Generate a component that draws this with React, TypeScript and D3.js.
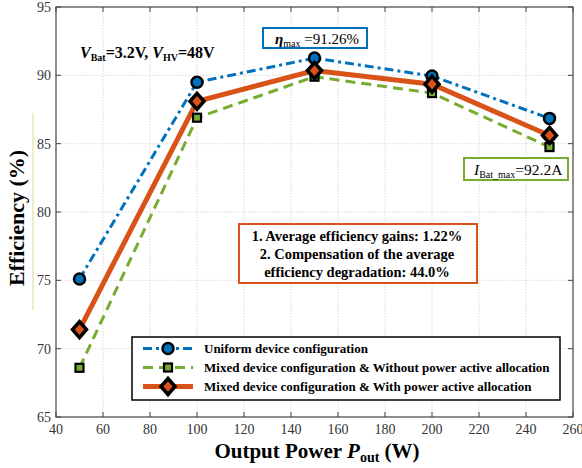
import React from 'react';
import * as d3 from 'd3';

const power = [50, 100, 150, 200, 250];
const uniform = [75.1, 89.5, 91.26, 89.95, 86.85];
const mixedWithout = [68.6, 86.9, 89.9, 88.7, 84.75];
const mixedWith = [71.4, 88.1, 90.35, 89.35, 85.6];
const xTicks = [40, 60, 80, 100, 120, 140, 160, 180, 200, 220, 240, 260];
const yTicks = [65, 70, 75, 80, 85, 90, 95];
const legendLabels = [
  'Uniform device configuration',
  'Mixed device configuration & Without power active allocation',
  'Mixed device configuration & With power active allocation',
];
const noteLines = ['1. Average efficiency gains: 1.22%', '2. Compensation of the average', 'efficiency degradation: 44.0%'];

const W = 582;
const H = 468;
const margin = { top: 7, right: 9, bottom: 51, left: 56 };
const BLUE = '#0072BD';
const GREEN = '#77AC30';
const ORANGE = '#D95319';
const ff = { fontFamily: "'Liberation Serif'" };

const App = () => {
  const x = d3.scaleLinear().domain([40, 260]).range([margin.left, W - margin.right]);
  const y = d3.scaleLinear().domain([65, 95]).range([H - margin.bottom, margin.top]);

  const lineFn = (vals: number[]) =>
    d3.line<number>().x((_, i) => x(power[i])).y((d) => y(d))(vals) || '';

  const series = [
    { vals: uniform, color: BLUE, width: 3, dash: '9 4 3 4', marker: 'circle' },
    { vals: mixedWithout, color: GREEN, width: 3, dash: '10 6', marker: 'square' },
    { vals: mixedWith, color: ORANGE, width: 5, dash: null, marker: 'diamond' },
  ];

  const marker = (type: string, cx: number, cy: number, color: string, key: string) => {
    if (type === 'circle')
      return <circle key={key} cx={cx} cy={cy} r={5.5} fill={color} stroke="#000" strokeWidth={2.5} />;
    if (type === 'square')
      return <rect key={key} x={cx - 4} y={cy - 4} width={8} height={8} fill={color} stroke="#000" strokeWidth={2.2} />;
    return (
      <path key={key} d={`M${cx},${cy - 8}L${cx + 7},${cy}L${cx},${cy + 8}L${cx - 7},${cy}Z`}
        fill={color} stroke="#000" strokeWidth={3.5} strokeLinejoin="miter" />
    );
  };

  const x0 = margin.left, x1 = W - margin.right, y0 = margin.top, y1 = H - margin.bottom;

  return (
    <svg width={W} height={H} style={{ position: 'absolute', left: 0, top: 0, background: '#fff' }}>
      {/* grid */}
      {xTicks.slice(1, -1).map((t) => (
        <line key={'gx' + t} x1={x(t)} x2={x(t)} y1={y0} y2={y1} stroke="#cfcfcf" strokeWidth={0.8} strokeDasharray="1.5 1.5" />
      ))}
      {yTicks.slice(1, -1).map((t) => (
        <line key={'gy' + t} x1={x0} x2={x1} y1={y(t)} y2={y(t)} stroke="#cfcfcf" strokeWidth={0.8} strokeDasharray="1.5 1.5" />
      ))}
      {/* ticks */}
      {xTicks.map((t) => (
        <g key={'tx' + t}>
          <line x1={x(t)} x2={x(t)} y1={y1} y2={y1 - 5} stroke="#444" />
          <line x1={x(t)} x2={x(t)} y1={y0} y2={y0 + 5} stroke="#444" />
          <text x={x(t)} y={y1 + 17} textAnchor="middle" fontSize={14} fill="#333" style={ff}>{t}</text>
        </g>
      ))}
      {yTicks.map((t) => (
        <g key={'ty' + t}>
          <line x1={x0} x2={x0 + 5} y1={y(t)} y2={y(t)} stroke="#444" />
          <line x1={x1} x2={x1 - 5} y1={y(t)} y2={y(t)} stroke="#444" />
          <text x={x0 - 5} y={y(t) + 5} textAnchor="end" fontSize={14} fill="#333" style={ff}>{t}</text>
        </g>
      ))}
      <rect x={x0} y={y0} width={x1 - x0} height={y1 - y0} fill="none" stroke="#444" strokeWidth={1.2} />

      {/* series */}
      {series.map((s, i) => (
        <path key={'l' + i} d={lineFn(s.vals)} fill="none" stroke={s.color} strokeWidth={s.width}
          strokeDasharray={s.dash || undefined} />
      ))}
      {series.map((s, i) =>
        s.vals.map((v, j) => marker(s.marker, x(power[j]), y(v), s.color, `m${i}-${j}`))
      )}

      {/* annotations */}
      <text x={80} y={58} fontSize={16} fontWeight="bold" style={ff}>
        <tspan fontStyle="italic">V</tspan><tspan fontSize={10} dy={3}>Bat</tspan>
        <tspan dy={-3}>=3.2V, </tspan><tspan fontStyle="italic">V</tspan>
        <tspan fontSize={10} dy={3}>HV</tspan><tspan dy={-3}>=48V</tspan>
      </text>

      <rect x={263} y={28} width={104} height={20} fill="#fff" stroke={BLUE} strokeWidth={2} />
      <text x={275} y={44} fontSize={15} style={ff}>
        <tspan fontStyle="italic" fontWeight="bold">η</tspan><tspan fontSize={10} dy={3}>max</tspan>
        <tspan dy={-3}> =91.26%</tspan>
      </text>

      <rect x={464} y={158} width={104} height={22} fill="#fff" stroke={GREEN} strokeWidth={2} />
      <text x={474} y={175} fontSize={15.5} style={ff}>
        <tspan fontStyle="italic">I</tspan><tspan fontSize={10} dy={3}>Bat_max</tspan>
        <tspan dy={-3}>=92.2A</tspan>
      </text>

      <rect x={239} y={224} width={238} height={59} fill="#fff" stroke={ORANGE} strokeWidth={2} />
      {noteLines.map((t, i) => (
        <text key={'a' + i} x={357} y={241 + i * 18} textAnchor="middle" fontSize={14.5} fontWeight="bold" style={ff}>{t}</text>
      ))}

      {/* legend */}
      <rect x={132} y={337} width={428} height={63} fill="#fff" stroke="#000" strokeWidth={1.5} />
      {series.map((s, i) => {
        const ly = 348.5 + i * 19;
        return (
          <g key={'lg' + i}>
            <line x1={143} x2={193} y1={ly} y2={ly} stroke={s.color} strokeWidth={s.width}
              strokeDasharray={s.dash || undefined} />
            {marker(s.marker, 168, ly, s.color, 'lm' + i)}
            <text x={204} y={ly + 4.5} fontSize={13} fontWeight="bold" style={ff}>{legendLabels[i]}</text>
          </g>
        );
      })}

      {/* axis labels */}
      <line x1={33} x2={33} y1={113} y2={310} stroke="#e0d890" strokeWidth={1} />
      <text transform={`translate(24, 218) rotate(-90)`} textAnchor="middle" fontSize={22} fontWeight="bold" style={ff}>
        Efficiency (%)
      </text>
      <text x={317} y={458} textAnchor="middle" fontSize={21} fontWeight="bold" style={ff}>
        Output Power <tspan fontStyle="italic">P</tspan><tspan fontSize={14} dy={4}>out</tspan>
        <tspan dy={-4}> (W)</tspan>
      </text>
    </svg>
  );
};

export default App;
